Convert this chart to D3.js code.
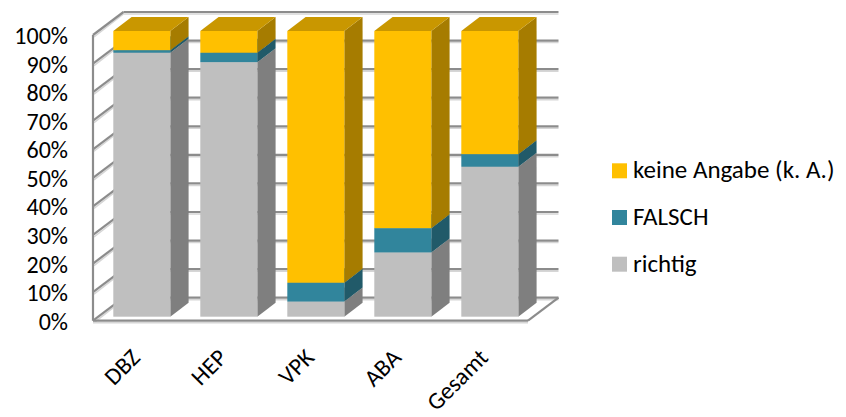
<!DOCTYPE html>
<html>
<head>
<meta charset="utf-8">
<script src="https://cdn.jsdelivr.net/npm/d3@7"></script>
<style>
  html, body { margin: 0; padding: 0; background: #fff; }
  svg { display: block; font-family: Carlito, Calibri, Lato, sans-serif; }
</style>
</head>
<body>
<svg id="chart" width="846" height="417"></svg>
<script>
// ---- data ----
const categories = ["DBZ", "HEP", "VPK", "ABA", "Gesamt"];
const seriesNames = ["richtig", "FALSCH", "keine Angabe (k. A.)"];
const richtig = [0.924, 0.891, 0.053, 0.225, 0.525];
const falsch  = [0.009, 0.033, 0.066, 0.085, 0.044];
const keineAngabe = [0.067, 0.076, 0.881, 0.690, 0.431];
const yTicks = [0, 0.1, 0.2, 0.3, 0.4, 0.5, 0.6, 0.7, 0.8, 0.9, 1.0];
const legendOrder = ["keine Angabe (k. A.)", "FALSCH", "richtig"];

// ---- styles ----
const faceColors = {
  "richtig": { front: "#BFBFBF", side: "#7F7F7F", top: "#A6A6A6" },
  "FALSCH": { front: "#31859C", side: "#215A69", top: "#286C7E" },
  "keine Angabe (k. A.)": { front: "#FFC000", side: "#A67C00", top: "#C99700" }
};
const wallColor = "#8C8C8C";
const wallShade = "#D6D6D6";

const svg = d3.select("#chart");

// Plot frame (front plane) and 3D depth
const frontLeft = 93, frontRight = 528;
const yBottom = 320.7, yTop = 35;
const depth = { dx: 30.5, dy: -23 };       // floor depth
const barOff = { dx: 5.3, dy: -4 };        // bar front face offset
const barDepth = { dx: 18.3, dy: -14 };    // bar depth

const x = d3.scaleBand().domain(categories).range([frontLeft, frontRight])
  .paddingInner(0.345).paddingOuter(0.1725);
const xCat = d3.scaleBand().domain(categories).range([frontLeft, frontRight]).padding(0);
const y = d3.scaleLinear().domain([0, 1]).range([yBottom, yTop]);

const seriesData = { "richtig": richtig, "FALSCH": falsch, "keine Angabe (k. A.)": keineAngabe };
const table = categories.map((c, i) => {
  const row = { cat: c };
  seriesNames.forEach(s => row[s] = seriesData[s][i]);
  return row;
});
const stacked = d3.stack().keys(seriesNames)(table);

// ---- walls & gridlines ----
const walls = svg.append("g");
const backLeft = frontLeft + depth.dx, backRight = frontRight + depth.dx;

function line(g, x1, y1, x2, y2, color, w) {
  g.append("line").attr("x1", x1).attr("y1", y1).attr("x2", x2).attr("y2", y2)
    .attr("stroke", color).attr("stroke-width", w);
}
yTicks.forEach(t => {
  const yf = y(t), yb = y(t) + depth.dy;
  line(walls, backLeft, yb + 2, backRight, yb + 2, wallShade, 1.5);
  line(walls, frontLeft + 1, yf + 2, backLeft, yb + 2, wallShade, 1.5);
});
line(walls, frontLeft, yBottom + 2, frontRight, yBottom + 2, wallShade, 1.5);
yTicks.forEach(t => {
  const yf = y(t), yb = y(t) + depth.dy;
  line(walls, backLeft, yb, backRight, yb, wallColor, 2.2);
  line(walls, frontLeft, yf, backLeft, yb, wallColor, 2.2);
});
line(walls, frontLeft, y(0), frontLeft, y(1), wallColor, 2.2);
line(walls, frontLeft, yBottom, frontRight, yBottom, wallColor, 2.2);
line(walls, frontRight, yBottom, backRight, yBottom + depth.dy, wallColor, 2.2);

// ---- bars ----
const bars = svg.append("g");
categories.forEach((c, i) => {
  stacked.forEach(layer => {
    const d = layer[i];
    const col = faceColors[layer.key];
    const x0 = x(c) + barOff.dx, x1 = x(c) + x.bandwidth() + barOff.dx;
    const yb = y(d[0]) + barOff.dy, yt = y(d[1]) + barOff.dy;
    if (yb - yt <= 0) return;
    bars.append("path")
      .attr("d", `M${x1},${yt}L${x1 + barDepth.dx},${yt + barDepth.dy}L${x1 + barDepth.dx},${yb + barDepth.dy}L${x1},${yb}Z`)
      .attr("fill", col.side);
    bars.append("path")
      .attr("d", `M${x0},${yt}L${x0 + barDepth.dx},${yt + barDepth.dy}L${x1 + barDepth.dx},${yt + barDepth.dy}L${x1},${yt}Z`)
      .attr("fill", col.top);
    bars.append("rect")
      .attr("x", x0).attr("y", yt).attr("width", x1 - x0).attr("height", yb - yt)
      .attr("fill", col.front);
  });
});

// ---- y axis labels ----
const fmt = d3.format(".0%");
svg.append("g").selectAll("text").data(yTicks).join("text")
  .attr("x", 68).attr("y", d => y(d) + 9)
  .attr("text-anchor", "end")
  .attr("font-size", 24).attr("fill", "#000")
  .text(d => fmt(d));

// ---- x axis labels ----
svg.append("g").selectAll("text").data(categories).join("text")
  .attr("transform", d => `translate(${xCat(d) + xCat.bandwidth() / 2 + 5},${359}) rotate(-45)`)
  .attr("text-anchor", "end")
  .attr("font-size", 24).attr("fill", "#000")
  .text(d => d);

// ---- legend ----
const legend = svg.append("g");
legendOrder.forEach((name, i) => {
  const ly = 170.8 + i * 46.7;
  legend.append("rect").attr("x", 612).attr("y", ly - 7.5).attr("width", 15).attr("height", 15)
    .attr("fill", faceColors[name].front);
  legend.append("text").attr("x", 633).attr("y", ly + 7.5)
    .attr("font-size", 25).attr("fill", "#000")
    .text(name);
});
</script>
</body>
</html>
